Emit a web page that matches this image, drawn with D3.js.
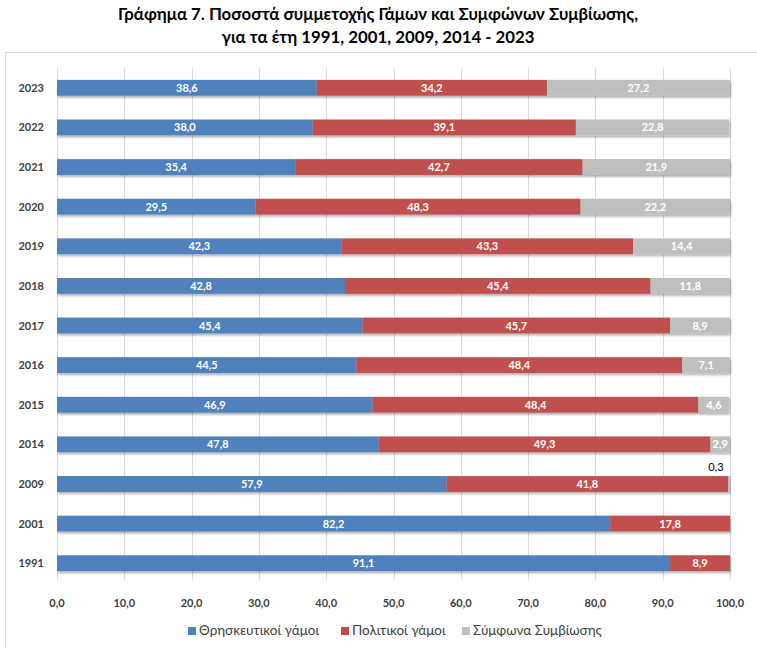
<!DOCTYPE html>
<html>
<head>
<meta charset="utf-8">
<script src="https://cdn.jsdelivr.net/npm/d3@7"></script>
<style>
  body { margin: 0; background: #fff; font-family: Lato, "Open Sans", sans-serif; }
</style>
</head>
<body>
<script>
// data
const years = ["2023", "2022", "2021", "2020", "2019", "2018", "2017", "2016", "2015", "2014", "2009", "2001", "1991"];
const religious = [38.6, 38.0, 35.4, 29.5, 42.3, 42.8, 45.4, 44.5, 46.9, 47.8, 57.9, 82.2, 91.1];
const civil = [34.2, 39.1, 42.7, 48.3, 43.3, 45.4, 45.7, 48.4, 48.4, 49.3, 41.8, 17.8, 8.9];
const partnership = [27.2, 22.8, 21.9, 22.2, 14.4, 11.8, 8.9, 7.1, 4.6, 2.9, 0.3, 0, 0];
const seriesNames = ["Θρησκευτικοί γάμοι", "Πολιτικοί γάμοι", "Σύμφωνα Συμβίωσης"];
const xTicks = [0, 10, 20, 30, 40, 50, 60, 70, 80, 90, 100];

const colors = ["#4f81bd", "#c0504d", "#bfbfbf"];
const W = 757, H = 648;
const fmt = v => v.toFixed(1).replace(".", ",");

const svg = d3.select("body").append("svg")
  .attr("width", W)
  .attr("height", H)

// frame
svg.append("rect")
  .attr("x", 5.5).attr("y", 52.5)
  .attr("width", W + 10).attr("height", H)
  .attr("fill", "none").attr("stroke", "#d9d9d9")

// title
svg.append("text")
  .attr("x", 378).attr("y", 20)
  .attr("text-anchor", "middle")
  .style("font-weight", "bold").style("font-size", "16.8px")
  .text("Γράφημα 7. Ποσοστά συμμετοχής Γάμων και Συμφώνων Συμβίωσης,")
svg.append("text")
  .attr("x", 378).attr("y", 43)
  .attr("text-anchor", "middle")
  .style("font-weight", "bold").style("font-size", "16.8px")
  .text("για τα έτη 1991, 2001, 2009, 2014 - 2023")

const data = years.map((y, i) => ({
  year: y,
  s0: religious[i],
  s1: civil[i],
  s2: partnership[i]
}))

const x = d3.scaleLinear().domain([0, 100]).range([57, 730])
const y = d3.scaleBand().domain(years).range([68, 583]).paddingInner(0.6).paddingOuter(0.3)

// gridlines
svg.append("g").selectAll("line")
  .data(xTicks)
  .enter().append("line")
  .attr("x1", d => Math.round(x(d)) + 0.5)
  .attr("x2", d => Math.round(x(d)) + 0.5)
  .attr("y1", 68).attr("y2", 580)
  .attr("stroke", "#d9d9d9")

// x tick labels
svg.append("g").selectAll("text")
  .data(xTicks)
  .enter().append("text")
  .attr("x", d => x(d))
  .attr("y", 607)
  .attr("text-anchor", "middle")
  .style("font-size", "11px").style("font-weight", "bold").style("fill", "#404040")
  .text(d => fmt(d))

// y labels
svg.append("g").selectAll("text")
  .data(years)
  .enter().append("text")
  .attr("x", 44)
  .attr("y", d => y(d) + y.bandwidth() / 2 + 4)
  .attr("text-anchor", "end")
  .style("font-size", "11px").style("font-weight", "bold").style("fill", "#404040")
  .text(d => d)

const defs = svg.append("defs")
const f = defs.append("filter").attr("id", "sh").attr("x", "-5%").attr("y", "-20%").attr("width", "110%").attr("height", "160%")
f.append("feDropShadow").attr("dx", 1).attr("dy", 2).attr("stdDeviation", 1).attr("flood-color", "#000").attr("flood-opacity", 0.3)

const stack = d3.stack().keys(["s0", "s1", "s2"])
const layers = stack(data)

const g = svg.selectAll("g.layer")
  .data(layers)
  .enter().append("g")
  .attr("class", "layer")
  .style("fill", (d, i) => colors[i])

g.selectAll("rect")
  .data(d => d.filter(p => p[1] - p[0] > 0))
  .enter().append("rect")
  .attr("x", p => x(p[0]))
  .attr("y", p => y(p.data.year))
  .attr("width", p => x(p[1]) - x(p[0]))
  .attr("height", y.bandwidth())
  .attr("filter", "url(#sh)")

// value labels
layers.forEach((layer, li) => {
  svg.append("g").selectAll("text")
    .data(layer.filter(p => p[1] - p[0] > 0))
    .enter().append("text")
    .attr("x", p => {
      const v = p[1] - p[0]
      if (v < 1) return x(p[1]) - 14
      return (x(p[0]) + x(p[1])) / 2
    })
    .attr("y", p => {
      const v = p[1] - p[0]
      const base = y(p.data.year) + y.bandwidth() / 2 + 4
      return v < 1 ? base - 17 : base
    })
    .attr("text-anchor", "middle")
    .style("font-size", "11px")
    .style("font-weight", p => (p[1] - p[0] < 1 ? "normal" : "bold"))
    .style("fill", p => (p[1] - p[0] < 1 ? "#000" : "#fff"))
    .text(p => fmt(p[1] - p[0]))
})

// legend
const legX = [188, 341, 462]
const leg = svg.append("g").selectAll("g")
  .data(seriesNames)
  .enter().append("g")
  .attr("transform", (d, i) => `translate(${legX[i]},627)`)
leg.append("rect")
  .attr("width", 8).attr("height", 8)
  .style("fill", (d, i) => colors[i])
leg.append("text")
  .attr("x", 11).attr("y", 8)
  .style("font-size", "13.5px").style("fill", "#404040")
  .text(d => d)
</script>
</body>
</html>
